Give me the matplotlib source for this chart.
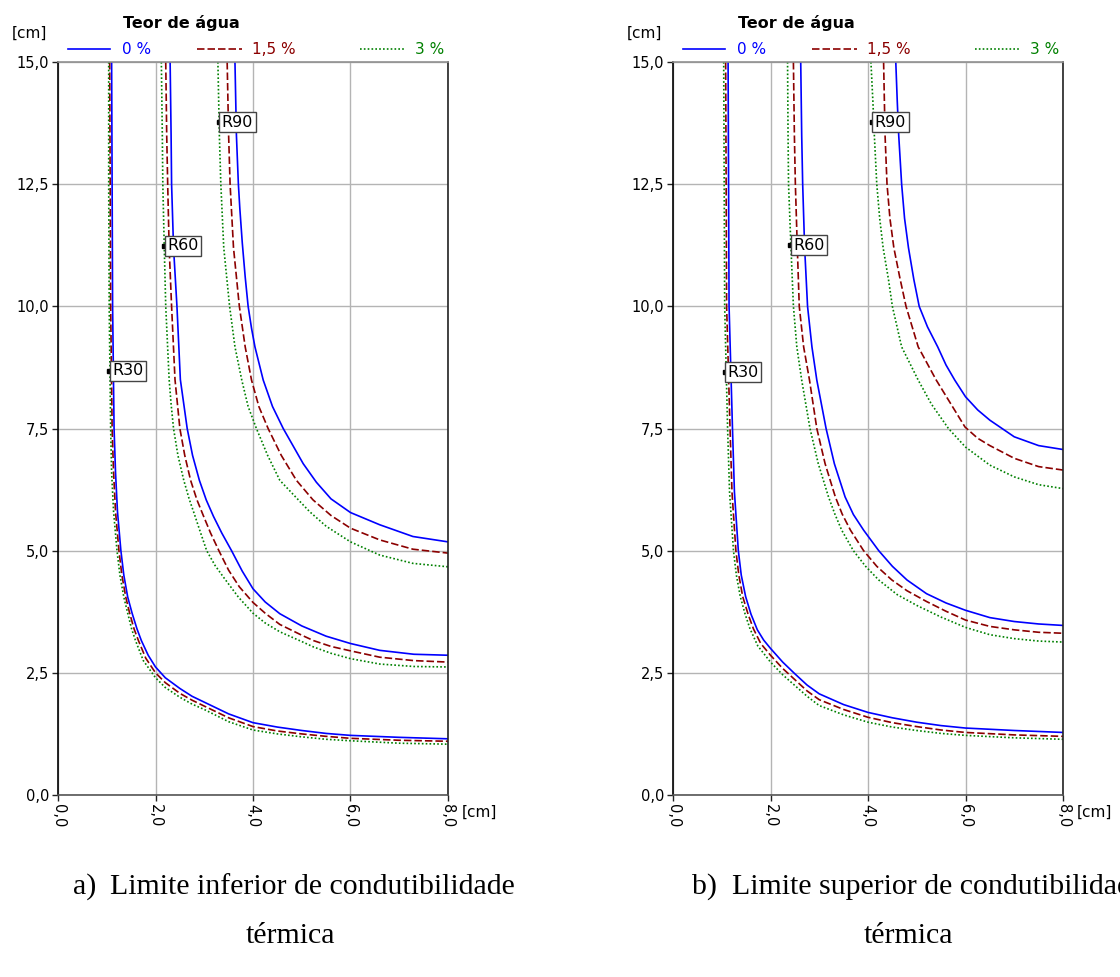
import numpy as np
import matplotlib.pyplot as plt

# ---- data (x, y in cm) ----
# a) limite inferior de condutibilidade
a30_x0 = [1.10, 1.11, 1.12, 1.15, 1.18, 1.22, 1.29, 1.35, 1.43, 1.52, 1.62, 1.71, 1.85, 2.0, 2.2, 2.5, 2.75, 3.0, 3.5, 4.0, 4.5, 5.0, 5.5, 6.0, 7.0, 8.0]
a30_y0 = [15.0, 12.5, 10.0, 7.5, 6.6, 5.8, 5.0, 4.5, 4.05, 3.72, 3.40, 3.16, 2.86, 2.62, 2.40, 2.18, 2.02, 1.90, 1.66, 1.48, 1.39, 1.32, 1.26, 1.22, 1.18, 1.15]
a30_x1 = [1.06, 1.07, 1.08, 1.11, 1.14, 1.18, 1.25, 1.31, 1.39, 1.47, 1.56, 1.65, 1.80, 2.0, 2.2, 2.5, 2.75, 3.0, 3.5, 4.0, 4.5, 5.0, 5.5, 6.0, 7.0, 8.0]
a30_y1 = [15.0, 12.5, 10.0, 7.5, 6.6, 5.8, 5.0, 4.5, 4.05, 3.72, 3.40, 3.16, 2.80, 2.50, 2.30, 2.08, 1.94, 1.82, 1.58, 1.40, 1.31, 1.25, 1.20, 1.16, 1.12, 1.10]
a30_x2 = [1.04, 1.04, 1.05, 1.08, 1.10, 1.14, 1.21, 1.27, 1.35, 1.43, 1.51, 1.59, 1.75, 2.0, 2.2, 2.5, 2.75, 3.0, 3.5, 4.0, 4.5, 5.0, 5.5, 6.0, 7.0, 8.0]
a30_y2 = [15.0, 12.5, 10.0, 7.5, 6.6, 5.8, 5.0, 4.5, 4.05, 3.72, 3.40, 3.16, 2.75, 2.40, 2.20, 2.00, 1.86, 1.75, 1.50, 1.33, 1.25, 1.19, 1.14, 1.11, 1.06, 1.04]

a60_x0 = [2.30, 2.32, 2.33, 2.37, 2.44, 2.51, 2.58, 2.65, 2.76, 2.90, 3.04, 3.19, 3.36, 3.56, 3.78, 4.0, 4.25, 4.55, 5.0, 5.5, 6.0, 6.6, 7.3, 8.0]
a60_y0 = [15.0, 13.5, 12.5, 11.2, 10.0, 8.5, 8.0, 7.5, 6.95, 6.44, 6.04, 5.70, 5.36, 5.0, 4.58, 4.22, 3.95, 3.71, 3.46, 3.25, 3.10, 2.96, 2.88, 2.86]
a60_x1 = [2.21, 2.23, 2.25, 2.28, 2.33, 2.40, 2.45, 2.50, 2.60, 2.72, 2.85, 2.98, 3.13, 3.30, 3.50, 3.72, 4.0, 4.25, 4.55, 5.0, 5.24, 5.6, 6.0, 6.6, 7.3, 8.0]
a60_y1 = [15.0, 13.5, 12.5, 11.2, 10.0, 8.5, 8.0, 7.5, 6.95, 6.44, 6.04, 5.72, 5.36, 5.0, 4.60, 4.26, 3.94, 3.72, 3.49, 3.27, 3.16, 3.04, 2.95, 2.82, 2.75, 2.72]
a60_x2 = [2.12, 2.14, 2.15, 2.18, 2.21, 2.28, 2.32, 2.37, 2.46, 2.58, 2.69, 2.80, 2.92, 3.05, 3.22, 3.40, 3.70, 4.0, 4.25, 4.55, 5.0, 5.24, 5.6, 6.0, 6.6, 7.3, 8.0]
a60_y2 = [15.0, 13.5, 12.5, 11.2, 10.0, 8.5, 8.0, 7.5, 6.95, 6.44, 6.06, 5.74, 5.38, 5.0, 4.70, 4.45, 4.05, 3.72, 3.52, 3.34, 3.14, 3.03, 2.90, 2.79, 2.68, 2.63, 2.62]

a90_x0 = [3.63, 3.66, 3.70, 3.73, 3.78, 3.84, 3.90, 3.97, 4.04, 4.21, 4.40, 4.62, 5.03, 5.30, 5.60, 6.0, 6.6, 7.28, 8.0]
a90_y0 = [15.0, 13.5, 12.5, 12.0, 11.3, 10.6, 10.0, 9.55, 9.17, 8.49, 7.95, 7.5, 6.78, 6.40, 6.06, 5.78, 5.53, 5.29, 5.18]
a90_x1 = [3.47, 3.50, 3.53, 3.60, 3.66, 3.72, 3.84, 3.97, 4.12, 4.31, 4.58, 4.89, 5.23, 5.6, 6.0, 6.6, 7.28, 8.0]
a90_y1 = [15.0, 13.5, 12.5, 11.2, 10.6, 10.0, 9.17, 8.49, 7.95, 7.5, 6.95, 6.44, 6.04, 5.72, 5.46, 5.22, 5.03, 4.95]
a90_x2 = [3.28, 3.31, 3.34, 3.40, 3.46, 3.52, 3.63, 3.77, 3.90, 4.07, 4.30, 4.55, 4.93, 5.16, 5.5, 6.0, 6.6, 7.28, 8.0]
a90_y2 = [15.0, 13.5, 12.5, 11.2, 10.6, 10.0, 9.17, 8.49, 7.95, 7.5, 6.95, 6.44, 6.04, 5.80, 5.50, 5.18, 4.91, 4.74, 4.67]

# b) limite superior de condutibilidade
b30_x0 = [1.13, 1.14, 1.15, 1.22, 1.26, 1.34, 1.40, 1.49, 1.60, 1.73, 1.86, 2.0, 2.25, 2.5, 2.75, 3.0, 3.5, 4.0, 4.5, 5.0, 5.5, 6.0, 7.0, 8.0]
b30_y0 = [15.0, 12.5, 10.0, 7.5, 6.2, 5.0, 4.5, 4.06, 3.70, 3.38, 3.17, 3.00, 2.72, 2.48, 2.25, 2.07, 1.85, 1.69, 1.58, 1.49, 1.42, 1.37, 1.32, 1.28]
b30_x1 = [1.08, 1.09, 1.10, 1.17, 1.21, 1.29, 1.35, 1.43, 1.54, 1.65, 1.80, 2.0, 2.25, 2.5, 2.75, 3.0, 3.5, 4.0, 4.5, 5.0, 5.5, 6.0, 7.0, 8.0]
b30_y1 = [15.0, 12.5, 10.0, 7.5, 6.2, 5.0, 4.5, 4.06, 3.70, 3.40, 3.10, 2.86, 2.59, 2.36, 2.13, 1.95, 1.75, 1.59, 1.48, 1.40, 1.33, 1.28, 1.23, 1.20]
b30_x2 = [1.04, 1.05, 1.06, 1.12, 1.16, 1.24, 1.30, 1.38, 1.48, 1.58, 1.74, 2.0, 2.25, 2.5, 2.75, 3.0, 3.5, 4.0, 4.5, 5.0, 5.5, 6.0, 7.0, 8.0]
b30_y2 = [15.0, 12.5, 10.0, 7.5, 6.2, 5.0, 4.5, 4.06, 3.70, 3.40, 3.05, 2.72, 2.46, 2.24, 2.02, 1.83, 1.64, 1.49, 1.39, 1.32, 1.26, 1.22, 1.17, 1.14]

b60_x0 = [2.62, 2.64, 2.66, 2.70, 2.76, 2.85, 2.95, 3.14, 3.31, 3.53, 3.70, 3.91, 4.22, 4.50, 4.80, 5.2, 5.6, 6.0, 6.5, 7.0, 7.5, 8.0]
b60_y0 = [15.0, 13.5, 12.5, 11.2, 10.0, 9.17, 8.49, 7.5, 6.78, 6.10, 5.74, 5.42, 5.0, 4.68, 4.40, 4.12, 3.93, 3.78, 3.63, 3.55, 3.50, 3.47]
b60_x1 = [2.47, 2.49, 2.51, 2.55, 2.59, 2.68, 2.80, 2.95, 3.12, 3.33, 3.47, 3.64, 3.91, 4.18, 4.49, 4.8, 5.2, 5.6, 6.0, 6.5, 7.0, 7.5, 8.0]
b60_y1 = [15.0, 13.5, 12.5, 11.2, 10.0, 9.17, 8.49, 7.5, 6.78, 6.10, 5.75, 5.42, 5.0, 4.68, 4.40, 4.18, 3.96, 3.76, 3.58, 3.45, 3.38, 3.33, 3.31]
b60_x2 = [2.35, 2.36, 2.37, 2.42, 2.47, 2.54, 2.64, 2.81, 2.98, 3.19, 3.32, 3.46, 3.70, 3.95, 4.22, 4.6, 5.0, 5.5, 6.0, 6.5, 7.0, 7.5, 8.0]
b60_y2 = [15.0, 13.5, 12.5, 11.2, 10.0, 9.17, 8.49, 7.5, 6.78, 6.10, 5.75, 5.42, 5.0, 4.68, 4.40, 4.10, 3.88, 3.64, 3.43, 3.28, 3.20, 3.15, 3.13]

b90_x0 = [4.57, 4.60, 4.63, 4.69, 4.75, 4.83, 4.94, 5.05, 5.22, 5.43, 5.60, 5.78, 6.0, 6.25, 6.5, 7.0, 7.5, 8.0]
b90_y0 = [15.0, 14.2, 13.5, 12.5, 11.8, 11.2, 10.55, 10.0, 9.58, 9.17, 8.80, 8.49, 8.15, 7.88, 7.67, 7.33, 7.15, 7.07]
b90_x1 = [4.32, 4.35, 4.39, 4.45, 4.53, 4.65, 4.78, 5.03, 5.40, 5.99, 6.25, 6.5, 7.0, 7.5, 8.0]
b90_y1 = [15.0, 13.5, 12.5, 11.8, 11.2, 10.6, 10.0, 9.17, 8.49, 7.53, 7.30, 7.15, 6.89, 6.72, 6.65]
b90_x2 = [4.06, 4.10, 4.13, 4.18, 4.24, 4.31, 4.42, 4.50, 4.69, 5.03, 5.30, 5.65, 6.0, 6.5, 7.0, 7.5, 8.0]
b90_y2 = [15.0, 14.2, 13.5, 12.5, 11.8, 11.2, 10.55, 10.0, 9.17, 8.49, 8.0, 7.5, 7.12, 6.75, 6.51, 6.35, 6.27]

labels_r = ['R30', 'R60', 'R90']
a_label_x = [1.05, 2.18, 3.30]
a_label_y = [8.68, 11.24, 13.77]
b_label_x = [1.06, 2.41, 4.08]
b_label_y = [8.65, 11.25, 13.77]

water = ['0 %', '1,5 %', '3 %']
colors = ['#0000ff', '#8b0000', '#008000']
styles = ['-', (0, (4.5, 1.8)), (0, (1, 1.3))]

xticks = [0, 2, 4, 6, 8]
xticklabels = ['0,0', '2,0', '4,0', '6,0', '8,0']
yticks = [0, 2.5, 5, 7.5, 10, 12.5, 15]
yticklabels = ['0,0', '2,5', '5,0', '7,5', '10,0', '12,5', '15,0']

W, H = 1120, 977
fig = plt.figure(figsize=(W / 100, H / 100), dpi=100)
ax_a = fig.add_axes([58 / W, 1 - 795 / H, 390 / W, 733 / H])
ax_b = fig.add_axes([673 / W, 1 - 795 / H, 390 / W, 733 / H])


def setup(ax):
    ax.set_xlim(0, 8)
    ax.set_ylim(0, 15)
    ax.set_xticks(xticks)
    ax.set_xticklabels(xticklabels, rotation=-90, fontsize=10.5)
    ax.set_yticks(yticks)
    ax.set_yticklabels(yticklabels, fontsize=10.5)
    ax.grid(True, color='#b4b4b4', lw=1)
    ax.set_axisbelow(True)
    ax.tick_params(direction='out', length=4, width=1, pad=2.5, color='#222222')
    ax.spines['left'].set_color('black')
    ax.spines['right'].set_color('#222222')
    ax.spines['top'].set_color('#909090')
    ax.spines['bottom'].set_color('#555555')
    for s in ax.spines.values():
        s.set_linewidth(1.2)
    # units
    ax.text(-0.118, 1.039, '[cm]', transform=ax.transAxes, fontsize=11,
            ha='left', va='center')
    ax.text(1.036, -0.023, '[cm]', transform=ax.transAxes, fontsize=11,
            ha='left', va='center', clip_on=False)
    # legend drawn like the original
    ax.text(0.167, 1.053, 'Teor de água', transform=ax.transAxes, fontsize=11.5,
            fontweight='bold', ha='left', va='center')
    lx = [(0.026, 0.133, 0.164), (0.356, 0.472, 0.497), (0.774, 0.890, 0.915)]
    for (x0, x1, xt), lab, c, ls in zip(lx, water, colors, styles):
        ax.plot([x0, x1], [1.0177, 1.0177], transform=ax.transAxes, color=c,
                ls=ls, lw=1.2, clip_on=False)
        ax.text(xt, 1.0177, lab, transform=ax.transAxes, color=c, fontsize=11,
                ha='left', va='center')


def draw(ax, curves, lab_x, lab_y):
    for grp in curves:
        for (x, y), c, ls in zip(grp, colors, styles):
            ax.plot(x, y, color=c, ls=ls, lw=1.2)
    for t, x, y in zip(labels_r, lab_x, lab_y):
        ax.plot(x, y, 's', color='black', ms=3, zorder=5)
        ax.text(x + 0.06, y, t, fontsize=11.5, ha='left', va='center', zorder=6,
                bbox=dict(boxstyle='square,pad=0.15', fc='white', ec='#444444', lw=1))


setup(ax_a)
setup(ax_b)
draw(ax_a, [[(a30_x0, a30_y0), (a30_x1, a30_y1), (a30_x2, a30_y2)],
            [(a60_x0, a60_y0), (a60_x1, a60_y1), (a60_x2, a60_y2)],
            [(a90_x0, a90_y0), (a90_x1, a90_y1), (a90_x2, a90_y2)]],
     a_label_x, a_label_y)
draw(ax_b, [[(b30_x0, b30_y0), (b30_x1, b30_y1), (b30_x2, b30_y2)],
            [(b60_x0, b60_y0), (b60_x1, b60_y1), (b60_x2, b60_y2)],
            [(b90_x0, b90_y0), (b90_x1, b90_y1), (b90_x2, b90_y2)]],
     b_label_x, b_label_y)

# captions (the right one runs past the edge, as in the original)
cap = dict(fontsize=21.5, family='Liberation Serif', va='center')
fig.text(73 / W, 1 - 887 / H, 'a)', ha='left', **cap)
fig.text(110 / W, 1 - 887 / H, 'Limite inferior de condutibilidade', ha='left', **cap)
fig.text(290 / W, 1 - 936 / H, 'térmica', ha='center', **cap)
fig.text(692 / W, 1 - 887 / H, 'b)', ha='left', **cap)
fig.text(732 / W, 1 - 887 / H, 'Limite superior de condutibilidade', ha='left', **cap)
fig.text(908 / W, 1 - 936 / H, 'térmica', ha='center', **cap)

fig.savefig('out.png', dpi=100)
